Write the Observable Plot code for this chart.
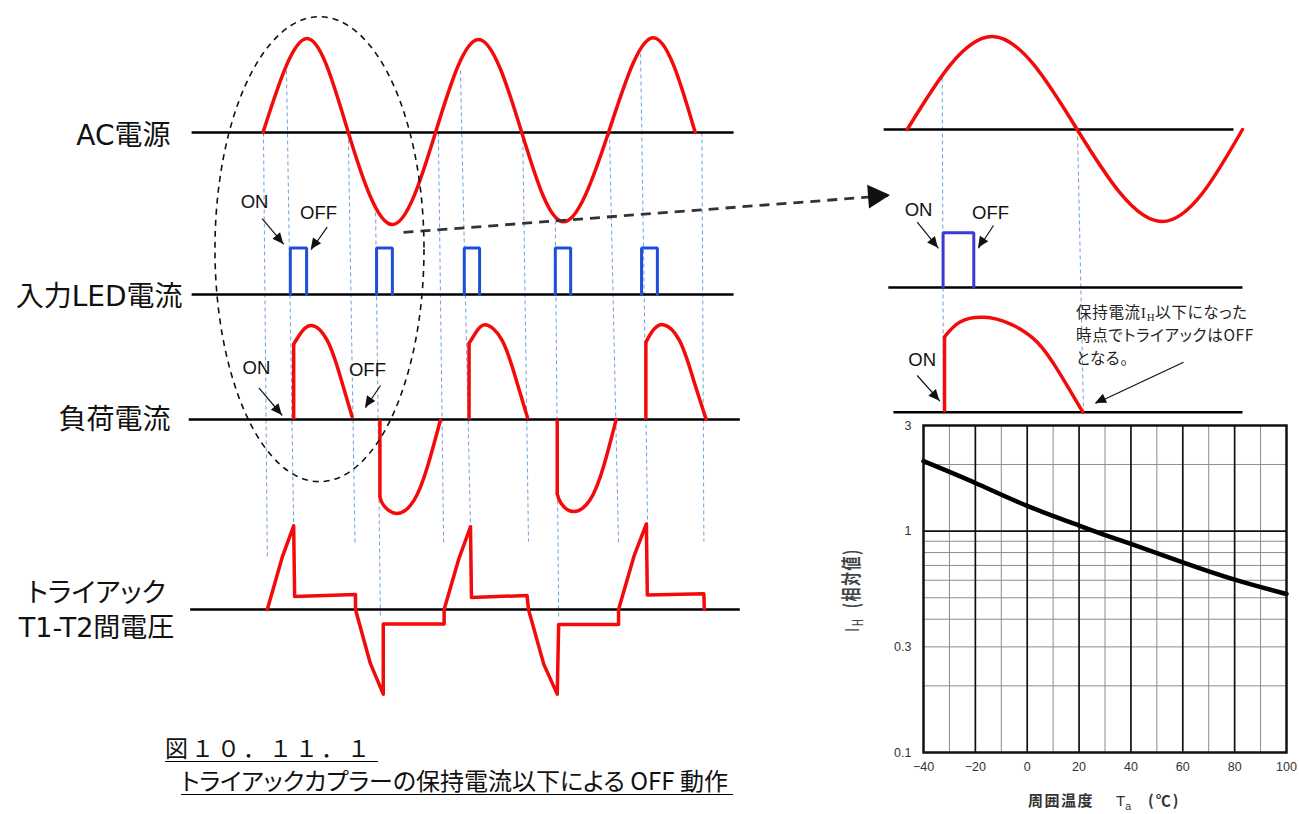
<!DOCTYPE html>
<html><head><meta charset="utf-8">
<script src="https://cdn.jsdelivr.net/npm/d3@7"></script>
<script src="https://cdn.jsdelivr.net/npm/@observablehq/plot@0.6"></script>
<style>
html,body{margin:0;padding:0;background:#fff;}
#page{position:relative;width:1299px;height:814px;overflow:hidden;background:#fff;}
#page svg{position:absolute;left:0;top:0;}
svg text{font-feature-settings:"palt";}
.cap{position:absolute;font-family:"Noto Sans CJK JP",sans-serif;color:#111;border-bottom:1.5px solid #000;white-space:nowrap;box-sizing:border-box;}
</style></head><body><div id="page"></div>
<script>
const W = 1299, H = 814;
const RED = "#f30a0a";

// ===== Left timing diagram: x = AC phase (deg), y = amplitude (1 = AC peak) =====
const acPhase = [0, 92, 178, 270, 360, 450, 540, 627, 721, 814, 902];
const acValue = [0, 1.01, 0, -0.99, 0, 1.0, 0, -0.96, 0, 1.02, 0];

const ledOnPhase  = [57, 237, 420, 610, 790];
const ledOffPhase = [91, 270, 452, 642, 823];
const ledLevel = 0.5;

const loadPhase = [
  [64, 75, 99, 134, 162, 186],
  [244, 252, 280, 315, 343, 370],
  [430, 441, 463, 499, 527, 552],
  [614, 622, 648, 683, 711, 737],
  [799, 810, 834, 869, 897, 925]
];
const loadValue = [
  [0.81, 0.90, 1.01, 0.85, 0.45, 0.03],
  [-0.835, -0.925, -1.01, -0.87, -0.51, -0.01],
  [0.82, 0.91, 1.02, 0.85, 0.45, 0.02],
  [-0.80, -0.90, -0.99, -0.86, -0.50, 0],
  [0.83, 0.93, 1.02, 0.85, 0.45, 0]
];

const triacPhase = [9, 40, 64, 66, 193, 193, 224, 251, 251, 378, 378, 409, 433, 435, 551, 554, 586, 614, 617, 742, 742, 774, 800, 802, 920, 921];
const triacValue = [0, 0.56, 0.90, 0.14, 0.16, 0, -0.58, -0.91, -0.155, -0.155, 0, 0.55, 0.89, 0.13, 0.15, 0, -0.59, -0.91, -0.16, -0.16, 0, 0.57, 0.92, 0.155, 0.17, 0];

// guide lines (absolute levels in diagram units)
const guideTopPhase = [1, 49, 178, 235, 366, 412, 542, 610, 723, 788, 916];
const guideTopLevel = [0, 0.667, 0, -0.86, 0, 0.667, 0, -0.946, 0, 0.849, 0];
const guideBotPhase = [9, 64, 192, 245, 377, 433, 554, 617, 742, 803, 920];
const guideBotLevel = [-4.57, -4.237, -4.419, -5.215, -4.441, -4.237, -4.398, -5.215, -4.419, -4.355, -4.398];

const rowNames = ["AC電源", "入力LED電流", "負荷電流"];
const triacName = "トライアック\nT1-T2間電圧";
const onOffText = ["ON", "OFF", "ON", "OFF"];

// ===== Right (magnified) diagram =====
const zAcPhase = [0, 90, 180, 270, 355];
const zAcValue = [0, 1.0, 0, -0.99, 0];
const zLedOn = 38, zLedOff = 70.5, zLedLevel = 0.59;
const zLoadPhase = [39.5, 56, 81, 109, 138, 162, 186];
const zLoadValue = [0.81, 0.97, 1.02, 0.95, 0.75, 0.41, 0];
const zOnOffText = ["ON", "OFF", "ON"];

// ===== I_H vs Ta chart =====
const ihTemp  = [-40, -20, 0, 20, 30, 40, 60, 80, 100];
const ihValue = [2.07, 1.65, 1.30, 1.06, 0.96, 0.875, 0.723, 0.604, 0.52];
const tempTicks = [-40, -20, 0, 20, 40, 60, 80, 100];
const tempMinor = [-30, -10, 10, 30, 50, 70, 90];
const tempMajor = [-20, 0, 20, 40, 60, 80];
const ihTicks = [0.1, 0.3, 1, 3];
const ihMinor = [2, 0.9, 0.8, 0.7, 0.6, 0.5, 0.4, 0.3, 0.2];
const ihMajor = [1];

// ---------- layout (pixel mapping of the two schematic diagrams) ----------
const LA = {x0: 262.5, kx: 0.4792, y0: 132, ky: 93};
const rowsA = {ac: 0, led: -1.742, load: -3.086, triac: -5.129};
const LB = {x0: 906.7, kx: 0.9444, y0: 129, ky: 93};
const rowsB = {ac: 0, led: -1.699, load: -3.040};

const page = document.getElementById("page");
const FONT_LBL = "DejaVu Sans, Noto Sans CJK JP, sans-serif";
const FONT_SM = "Liberation Sans, Arial, sans-serif";

function arrowHeads(svg, arrows, len, hw, fill) {
  const sx = svg.scale("x"), sy = svg.scale("y");
  const g = d3.select(svg).append("g");
  for (const a of arrows) {
    const x1 = sx.apply(a.x1), y1 = sy.apply(a.y1), x2 = sx.apply(a.x2), y2 = sy.apply(a.y2);
    const dx = x2 - x1, dy = y2 - y1, L = Math.hypot(dx, dy);
    const ux = dx / L, uy = dy / L, bx = x2 - ux * len, by = y2 - uy * len;
    g.append("polygon").attr("points",
      `${x2},${y2} ${bx - uy * hw},${by + ux * hw} ${bx + uy * hw},${by - ux * hw}`)
      .attr("fill", fill);
  }
}
function richText(svg, x, y, parts, o) {
  const t = d3.select(svg).append("text").attr("x", o.transform ? 0 : x).attr("y", o.transform ? 0 : y)
    .attr("font-family", o.family).attr("font-size", o.size).attr("fill", o.fill || "#111")
    .attr("dominant-baseline", "middle").attr("text-anchor", o.anchor || "start");
  if (o.weight) t.attr("font-weight", o.weight);
  if (o.spacing) t.attr("letter-spacing", o.spacing);
  if (o.transform) t.attr("transform", `translate(${x},${y}) ${o.transform}`);
  let shift = 0;
  for (const p of parts) {
    const s = t.append("tspan").text(p.t);
    if (p.family) s.attr("font-family", p.family);
    if (p.weight) s.attr("font-weight", p.weight);
    if (p.sub) { s.attr("font-size", o.size * 0.7).attr("dy", o.size * 0.3); shift = o.size * 0.3; }
    else if (shift) { s.attr("dy", -shift); shift = 0; }
  }
  return t;
}

// ================= Plot C : I_H chart (bottom layer) =================
const ihData = ihTemp.map((t, i) => ({t, v: ihValue[i]}));
const plotC = Plot.plot({
  width: W, height: H, marginLeft: 923, marginRight: 13, marginTop: 425, marginBottom: 62,
  style: {background: "white", fontFamily: FONT_SM, fontSize: "12.5px", color: "#333"},
  x: {domain: [-40, 100], label: null, axis: null},
  y: {type: "log", domain: [0.1, 3], label: null, axis: null},
  marks: [
    Plot.ruleX(tempMinor, {stroke: "#8c8c8c", strokeWidth: 1}),
    Plot.ruleY(ihMinor, {stroke: "#8c8c8c", strokeWidth: 1}),
    Plot.ruleX(tempMajor, {stroke: "#111", strokeWidth: 1.7}),
    Plot.ruleY(ihMajor, {stroke: "#111", strokeWidth: 1.7}),
    Plot.line(ihData, {x: "t", y: "v", stroke: "#000", strokeWidth: 4.5, curve: "natural"}),
    Plot.frame({stroke: "#111", strokeWidth: 2.5}),
    Plot.axisX({ticks: tempTicks, tickSize: 0, tickPadding: 10, label: null}),
    Plot.axisY({ticks: ihTicks, tickSize: 0, tickPadding: 12, label: null, tickFormat: d => `${d}`})
  ]
});
page.appendChild(plotC);
richText(plotC, 853, 590, [{t: "I", family: "Liberation Sans", weight: "normal"}, {t: "H", sub: true, weight: "normal"}, {t: "  (相対値)"}],
  {family: "Noto Sans CJK JP", size: 14, weight: "bold", fill: "#444", anchor: "middle", transform: "rotate(-90) scale(1,1.45)", spacing: 1.5});
richText(plotC, 1028, 802, [{t: "周囲温度"}], {family: "Noto Sans CJK JP", size: 15, weight: "bold", fill: "#333", spacing: 1.5});
richText(plotC, 1116, 802, [{t: "T"}, {t: "a", sub: true}], {family: "Liberation Sans", size: 15, fill: "#333"});
richText(plotC, 1148, 802, [{t: "(℃)"}], {family: "Noto Sans CJK JP", size: 15, weight: "bold", fill: "#333", spacing: 2});

// ================= Plot B : magnified diagram =================
const zAc = zAcPhase.map((p, i) => ({p, v: zAcValue[i]}));
const zLoad = zLoadPhase.map((p, i) => ({p, v: zLoadValue[i]}));
const zPulse = [[zLedOn, 0], [zLedOn, zLedLevel], [zLedOff, zLedLevel], [zLedOff, 0]];
const zBase = [{r: "ac", a: -25, b: 345.5}, {r: "led", a: -20, b: 355}, {r: "load", a: -14.6, b: 355}];
const zGuides = [{x1: 37.1, y1: 0.559, x2: 38.4, y2: -3.04}, {x1: 180.3, y1: 0, x2: 186.7, y2: -3.04}];
const zLabelPos = [{x: 12, y: -0.871}, {x: 88.2, y: -0.9}, {x: 15.9, y: -2.484}];
const zArrows = [
  {x1: 10.6, y1: -0.997, x2: 33.1, y2: -1.277},
  {x1: 91.4, y1: -1.032, x2: 75.5, y2: -1.277},
  {x1: 10.6, y1: -2.645, x2: 34.7, y2: -2.921},
  {x1: 292.6, y1: -2.502, x2: 199.4, y2: -2.946}
];
const plotB = Plot.plot({
  width: W, height: H, margin: 0,
  style: {background: "transparent"},
  x: {domain: [(0 - LB.x0) / LB.kx, (W - LB.x0) / LB.kx], range: [0, W], axis: null},
  y: {domain: [LB.y0 / LB.ky, (LB.y0 - H) / LB.ky], range: [0, H], axis: null},
  marks: [
    Plot.link(zGuides, {x1: "x1", y1: "y1", x2: "x2", y2: "y2", stroke: "#6fa3d8", strokeWidth: 1, strokeDasharray: "4,3"}),
    Plot.link(zBase, {x1: "a", x2: "b", y1: d => rowsB[d.r], y2: d => rowsB[d.r], stroke: "#000", strokeWidth: 2.5}),
    Plot.line(zAc, {x: "p", y: d => rowsB.ac + d.v, stroke: RED, strokeWidth: 3.5, curve: "natural"}),
    Plot.line(zPulse, {x: d => d[0], y: d => rowsB.led + d[1], stroke: "#3a3ad2", strokeWidth: 3, strokeLinejoin: "miter"}),
    Plot.link([zLoad[0]], {x1: "p", x2: "p", y1: rowsB.load, y2: d => rowsB.load + d.v, stroke: RED, strokeWidth: 3.5}),
    Plot.line(zLoad, {x: "p", y: d => rowsB.load + d.v, stroke: RED, strokeWidth: 3.5, curve: "natural"}),
    Plot.link(zArrows, {x1: "x1", y1: "y1", x2: "x2", y2: "y2", stroke: "#111", strokeWidth: 1.2}),
    Plot.text(zLabelPos, {x: "x", y: "y", text: (d, i) => zOnOffText[i], fontFamily: FONT_SM, fontSize: 18.5, fill: "#111"})
  ]
});
page.appendChild(plotB);
arrowHeads(plotB, zArrows, 11, 5, "#111");
{
  const sx = plotB.scale("x"), sy = plotB.scale("y");
  const ax = sx.apply(179.3);
  const o = {family: "Noto Sans CJK JP", size: 15.5, fill: "#222", spacing: 0.7};
  richText(plotB, ax, sy.apply(-1.99), [{t: "保持電流"}, {t: "I", family: "Liberation Serif"}, {t: "H", sub: true, family: "Liberation Serif"}, {t: "以下になった"}], o);
  richText(plotB, ax, sy.apply(-2.237), [{t: "時点でトライアックはOFF"}], o);
  richText(plotB, ax, sy.apply(-2.487), [{t: "となる。"}], o);
}

// ================= Plot A : left timing diagram (top layer) =================
const acData = acPhase.map((p, i) => ({p, v: acValue[i]}));
const ledPts = ledOnPhase.flatMap((on, i) => [
  {i, p: on, v: 0}, {i, p: on, v: ledLevel}, {i, p: ledOffPhase[i], v: ledLevel}, {i, p: ledOffPhase[i], v: 0}]);
const loadPts = loadPhase.flatMap((ps, k) => ps.map((p, j) => ({k, p, v: loadValue[k][j]})));
const loadJumps = loadPhase.map((ps, k) => ({p: ps[0], v: loadValue[k][0]}));
const triacData = triacPhase.map((p, i) => ({p, v: triacValue[i]}));
const guides = guideTopPhase.map((p, i) => ({x1: p, y1: guideTopLevel[i], x2: guideBotPhase[i], y2: guideBotLevel[i]}));
const baseA = [{r: "ac", a: -149, b: 982}, {r: "led", a: -149, b: 982}, {r: "load", a: -155, b: 995}, {r: "triac", a: -152, b: 995}];
const rowLabelPos = [{x: -193, y: -0.043}, {x: -168, y: -1.774}, {x: -193, y: -3.097}];
const triacLabelPos = [{x: -347.4, y: -5.113}];
const onOffPos = [{x: -17.7, y: -0.75}, {x: 116, y: -0.87}, {x: -13.6, y: -2.53}, {x: 218, y: -2.55}];
const arrowsA = [
  {x1: -1.7, y1: -0.925, x2: 43.4, y2: -1.204},
  {x1: 134, y1: -1.018, x2: 100.6, y2: -1.261},
  {x1: -8.6, y1: -2.745, x2: 40.2, y2: -3.043},
  {x1: 245.2, y1: -2.72, x2: 213.9, y2: -2.96}
];
const bigArrow = [{x1: 293.2, y1: -1.075, x2: 1309.5, y2: -0.677}];
const ellipseA = {cx: 118.9, cy: -1.26, rx: 218.1, ry: 2.5};

const plotA = Plot.plot({
  width: W, height: H, margin: 0,
  style: {background: "transparent"},
  x: {domain: [(0 - LA.x0) / LA.kx, (W - LA.x0) / LA.kx], range: [0, W], axis: null},
  y: {domain: [LA.y0 / LA.ky, (LA.y0 - H) / LA.ky], range: [0, H], axis: null},
  marks: [
    Plot.link(guides, {x1: "x1", y1: "y1", x2: "x2", y2: "y2", stroke: "#6fa3d8", strokeWidth: 1, strokeDasharray: "4,3"}),
    Plot.link(baseA, {x1: "a", x2: "b", y1: d => rowsA[d.r], y2: d => rowsA[d.r], stroke: "#000", strokeWidth: 2.5}),
    Plot.line(acData, {x: "p", y: d => rowsA.ac + d.v, stroke: RED, strokeWidth: 3.5, curve: "natural"}),
    Plot.line(ledPts, {x: "p", y: d => rowsA.led + d.v, z: "i", stroke: "#1f4fd8", strokeWidth: 3, strokeLinejoin: "miter"}),
    Plot.link(loadJumps, {x1: "p", x2: "p", y1: rowsA.load, y2: d => rowsA.load + d.v, stroke: RED, strokeWidth: 3.5}),
    Plot.line(loadPts, {x: "p", y: d => rowsA.load + d.v, z: "k", stroke: RED, strokeWidth: 3.5, curve: "natural"}),
    Plot.line(triacData, {x: "p", y: d => rowsA.triac + d.v, stroke: RED, strokeWidth: 3.5}),
    Plot.link(arrowsA, {x1: "x1", y1: "y1", x2: "x2", y2: "y2", stroke: "#111", strokeWidth: 1.2}),
    Plot.link(bigArrow, {x1: "x1", y1: "y1", x2: "x2", y2: "y2", stroke: "#333", strokeWidth: 2.8, strokeDasharray: "10,7"}),
    Plot.text(rowLabelPos, {x: "x", y: "y", text: (d, i) => rowNames[i], textAnchor: "end",
      fontFamily: FONT_LBL, fontSize: 28, fill: "#111"}),
    Plot.text(triacLabelPos, {x: "x", y: "y", text: () => triacName, textAnchor: "middle",
      fontFamily: FONT_LBL, fontSize: 27, lineHeight: 1.3, fill: "#111"}),
    Plot.text(onOffPos, {x: "x", y: "y", text: (d, i) => onOffText[i], fontFamily: FONT_SM, fontSize: 18.5, fill: "#111"})
  ]
});
page.appendChild(plotA);
arrowHeads(plotA, arrowsA, 11, 5, "#111");
arrowHeads(plotA, bigArrow, 22, 12, "#111");
{
  const sx = plotA.scale("x"), sy = plotA.scale("y");
  const cx = sx.apply(ellipseA.cx), cy = sy.apply(ellipseA.cy);
  d3.select(plotA).append("ellipse").attr("cx", cx).attr("cy", cy)
    .attr("rx", Math.abs(sx.apply(ellipseA.cx + ellipseA.rx) - cx))
    .attr("ry", Math.abs(sy.apply(ellipseA.cy + ellipseA.ry) - cy))
    .attr("fill", "none").attr("stroke", "#111").attr("stroke-width", 1.6).attr("stroke-dasharray", "6,5");
}

// ================= Caption =================
const cap1 = document.createElement("div");
cap1.className = "cap";
Object.assign(cap1.style, {left: "165px", top: "733px", width: "213px", height: "29px", fontSize: "23px", lineHeight: "28px", letterSpacing: "3px"});
cap1.textContent = "図１０．１１．１";
page.appendChild(cap1);
const cap2 = document.createElement("div");
cap2.className = "cap";
Object.assign(cap2.style, {left: "181px", top: "766px", width: "552px", height: "29px", fontSize: "24px", lineHeight: "28px", fontFeatureSettings: '"palt"'});
cap2.textContent = "トライアックカプラーの保持電流以下による OFF 動作";
page.appendChild(cap2);
</script></body></html>
